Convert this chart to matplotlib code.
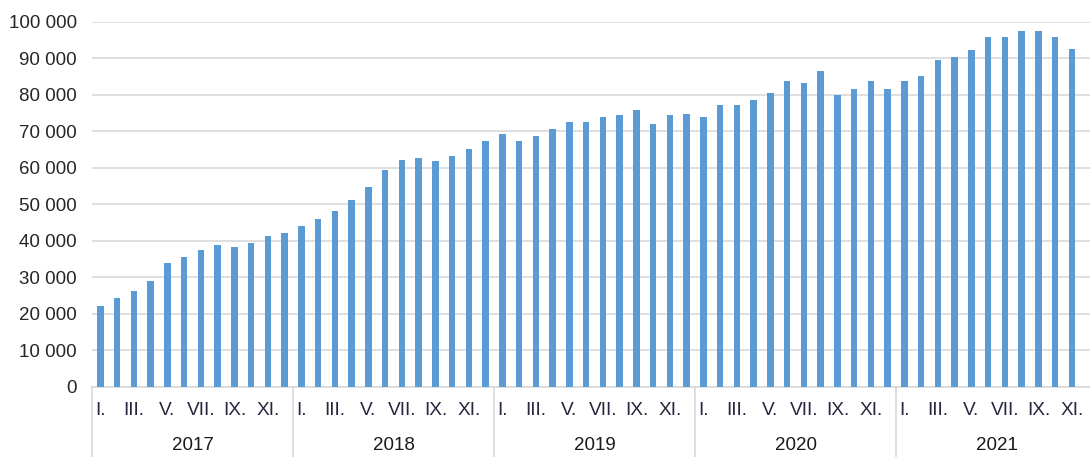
import numpy as np
import matplotlib.pyplot as plt
import matplotlib.transforms as mtransforms

plt.rcParams['font.family'] = ['Liberation Sans', 'DejaVu Sans']

years = ['2017', '2018', '2019', '2020', '2021']
months = ['I.', 'II.', 'III.', 'IV.', 'V.', 'VI.', 'VII.', 'VIII.', 'IX.', 'X.', 'XI.', 'XII.']

# monthly values, Jan 2017 .. Nov 2021 (December 2021 is cut off in the picture)
v2017 = [22100, 24400, 26200, 29000, 33800, 35600, 37600, 38900, 38400, 39300, 41200, 42100]
v2018 = [44100, 46000, 48300, 51100, 54800, 59500, 62200, 62800, 61800, 63300, 65200, 67500]
v2019 = [69300, 67500, 68800, 70700, 72600, 72600, 73900, 74400, 75900, 72100, 74400, 74900]
v2020 = [74000, 77200, 77200, 78700, 80600, 83800, 83400, 86700, 80100, 81500, 83800, 81500]
v2021 = [83800, 85200, 89500, 90300, 92200, 96000, 96000, 97400, 97400, 96000, 92700]

values = v2017 + v2018 + v2019 + v2020 + v2021
idx = np.arange(len(values))

fig = plt.figure(figsize=(10.9, 4.57), dpi=100)
ax = fig.add_axes([92 / 1090, 70.3 / 457, 1 - 92 / 1090, 364.7 / 457])

ax.bar(idx, values, width=0.38, color='#5B9BD5', zorder=3)

ax.set_ylim(0, 100000)
ax.set_xlim(-0.5, 59.08)
ax.set_yticks(np.arange(0, 100001, 10000))
ax.set_yticklabels([('{:,}'.format(v)).replace(',', ' ') for v in range(0, 100001, 10000)])
ax.yaxis.grid(True, color='#D9D9D9', linewidth=1.2, zorder=0)

# month labels, every other month
tick_pos = np.arange(0, 60, 2)
ax.set_xticks(tick_pos)
ax.set_xticklabels([months[i % 12] for i in tick_pos])

ax.tick_params(axis='y', length=0, pad=11, labelsize=13.5, labelcolor='#262626')
ax.tick_params(axis='x', length=0, pad=11, labelsize=13.8, labelcolor='#262640')

for s in ['top', 'right', 'left']:
    ax.spines[s].set_visible(False)
ax.spines['bottom'].set_color('#D9D9D9')
ax.spines['bottom'].set_linewidth(1.2)

# year groups with separators
trans = mtransforms.blended_transform_factory(ax.transData, ax.transAxes)
for k, yr in enumerate(years):
    left = k * 12 - 0.5
    ax.plot([left, left], [0, -0.2], transform=trans, clip_on=False,
            color='#D9D9D9', linewidth=1.2)
    ax.annotate(yr, xy=(k * 12 + 5.5, 0), xycoords=trans,
                xytext=(0, -42.5), textcoords='offset points',
                ha='center', va='center', fontsize=13.5, color='#1a1a1a')

fig.savefig('out.png', dpi=100)
